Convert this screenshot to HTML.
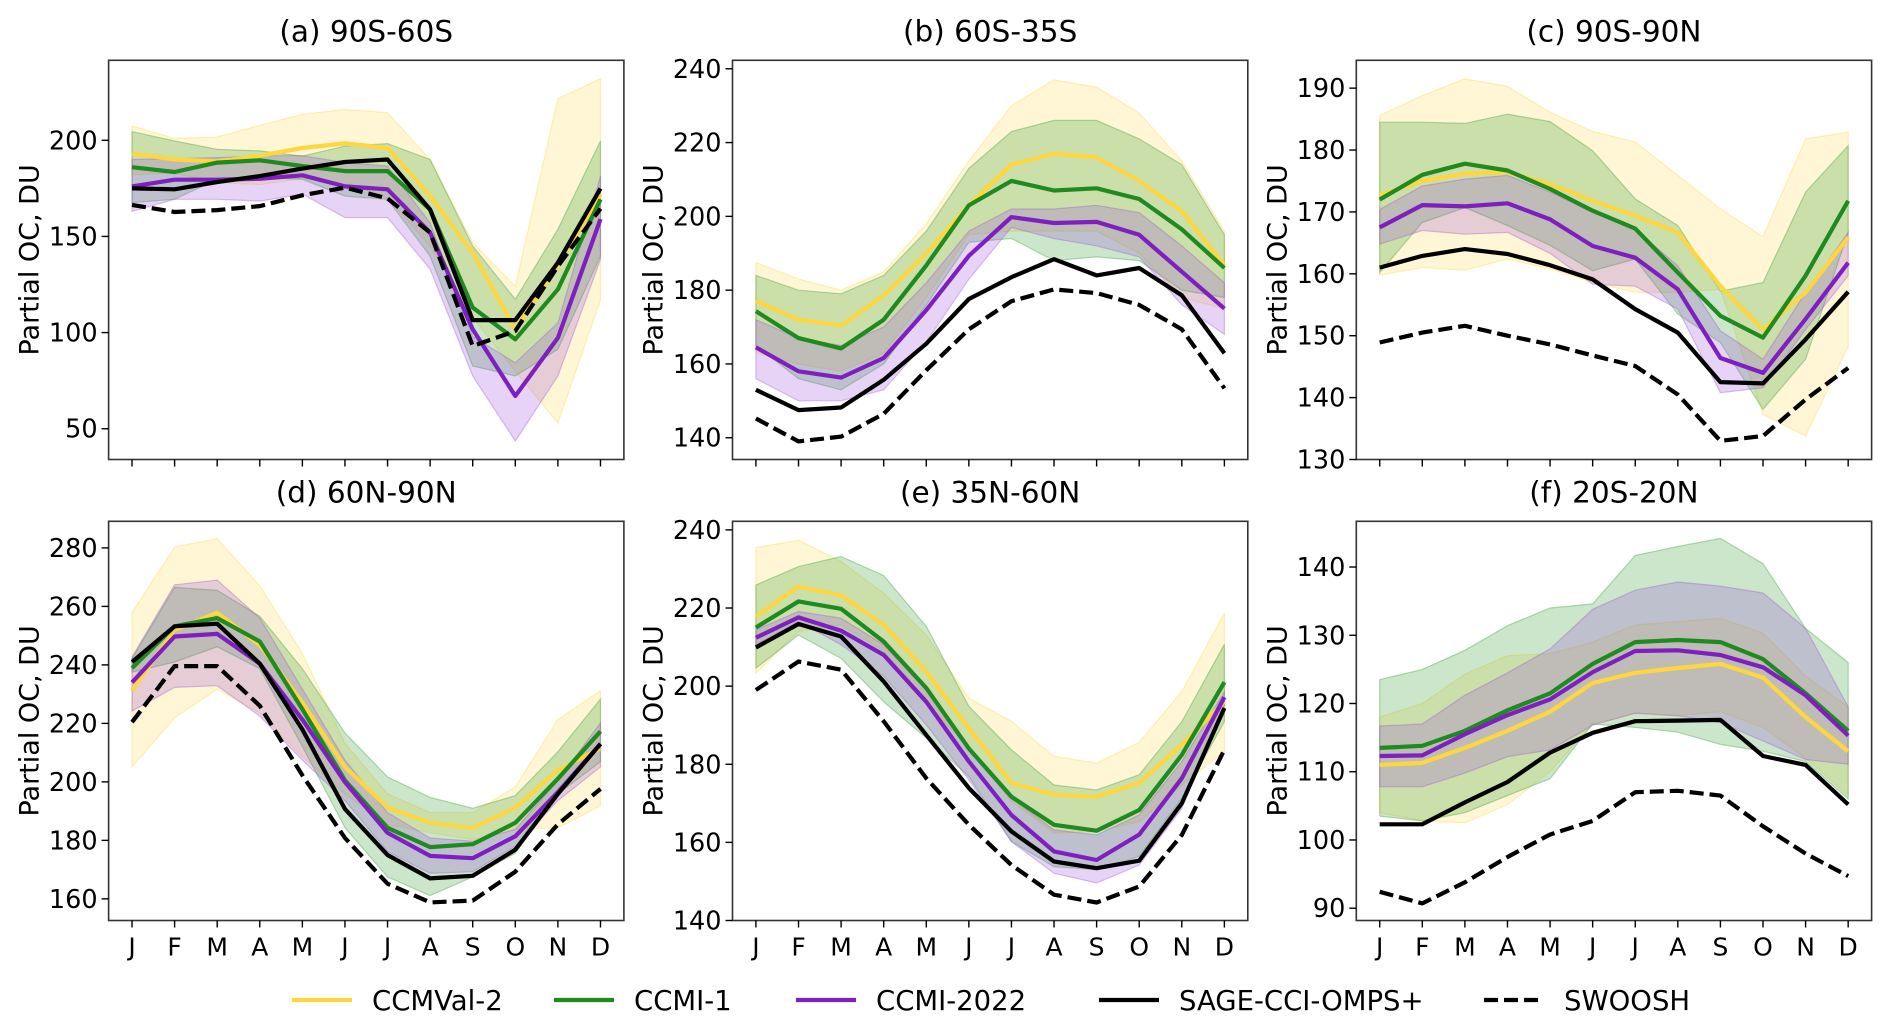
<!DOCTYPE html>
<html><head><meta charset="utf-8">
<style>
html,body{margin:0;padding:0;background:#fff;}
svg{display:block;font-family:"DejaVu Sans","Liberation Sans",sans-serif;}
</style></head>
<body>
<svg id="fig" width="1892" height="1029" viewBox="0 0 1892 1029" xmlns="http://www.w3.org/2000/svg"></svg>
<script>
const months = ["J","F","M","A","M","J","J","A","S","O","N","D"];
const seriesNames = ["CCMVal-2","CCMI-1","CCMI-2022","SAGE-CCI-OMPS+","SWOOSH"];
const panelTitles = ["(a) 90S-60S","(b) 60S-35S","(c) 90S-90N","(d) 60N-90N","(e) 35N-60N","(f) 20S-20N"];
const yTicksA = [50,100,150,200];
const yTicksB = [140,160,180,200,220,240];
const yTicksC = [130,140,150,160,170,180,190];
const yTicksD = [160,180,200,220,240,260,280];
const yTicksE = [140,160,180,200,220,240];
const yTicksF = [90,100,110,120,130,140];
const yRanges = [[34,241.6],[134.1,242.3],[130,194.5],[152.6,289.1],[140,242.2],[88.2,146.7]];

// Panel (a)
const aYel = [193.2,190,189,192,196,198.4,196,171,141.6,101.7,134.6,172];
const aGrn = [186,183.5,188.4,189.6,186.6,184,184,164,113,96.5,122.5,169.3];
const aPur = [176,179.5,179.5,180,181.8,176,174.5,152,101.7,67,97.3,159];
const aBlk = [175,174.5,178.3,181.4,185.3,188.7,190,164,106.5,106.5,136.4,175];
const aSw  = [166.4,162.7,163.7,165.8,171.4,175.4,169.8,152,93,100.8,134.6,164.5];
const aYelHi = [207.5,201,201.7,207.8,213.5,216,214.4,190,146.8,124,221.7,232];
const aYelLo = [182,183,178,177,180,178,170,145,108,80,53,117];
const aGrnHi = [204.5,199.7,195.3,194.5,191.8,197,198.3,190,145,117.3,153.7,199.7];
const aGrnLo = [167.6,169.3,179.7,180.6,179.7,171,169.3,139.8,82.6,77.4,91.3,139.8];
const aPurHi = [190,190.5,191,192,192,188.4,186.6,157,98,84.3,105,181.4];
const aPurLo = [163,169.3,169.3,168.4,172,159.8,159.8,133,77.4,43.6,77.4,138];
// Panel (b)
const bYel = [177,172,170.4,178.6,190,203,214,217,216,209.6,201.4,186.7];
const bGrn = [174.3,167,164.2,172,186.7,203,209.6,207,207.6,204.7,196.5,186];
const bPur = [164.5,158,156.3,161.6,174.6,189.3,199.8,198.2,198.5,195,185,175];
const bBlk = [153,147.5,148.2,155.7,165.5,177.6,183.5,188.4,184,186,178.6,162.9];
const bSw  = [145.2,139,140.3,146.5,158.3,169.4,177,180.2,179.2,176,169.4,153.4];
const bYelHi = [187.5,183,180,185,198,215,230,237,235,228,215,196];
const bYelLo = [163,160,158,163,178,195,196,196,196,190,178,175];
const bGrnHi = [184,180,179,184,196,213,223,226,226,221,214,195];
const bGrnLo = [165,156,153,160,176,193,194,188,189,188,180,178];
const bPurHi = [172,167,165,170,182,196,202,202,203,201,192,182];
const bPurLo = [156,150,150,153,166,183,197,194,192,189,176,168];
// Panel (c)
const cYel = [172.7,175,176.2,176.4,174.5,171.8,169.4,166.7,158,151,157,165.9];
const cGrn = [172,176,177.8,176.7,173.7,170.2,167.3,160.2,153.2,149.7,159.7,171.8];
const cPur = [167.5,171.1,170.9,171.4,168.8,164.5,162.6,157.5,146.4,144,152.7,161.8];
const cBlk = [161,162.9,164,163.2,161.4,159.1,154.3,150.5,142.5,142.3,149.4,157.1];
const cSw  = [148.9,150.5,151.6,150,148.6,146.8,145.1,140.5,133,133.8,139.7,144.8];
const cYelHi = [185.6,188.8,191.5,190.3,186.1,183,181.3,175.9,170.5,166,181.8,182.9];
const cYelLo = [159.8,161,160.6,162.4,160.8,158.6,157,157,157.5,137.3,133.8,148.3];
const cGrnHi = [184.5,184.5,184.3,185.8,184.6,179.9,172.1,167.8,157.2,158.6,173.2,180.7];
const cGrnLo = [160.2,168.3,170.7,167.8,164.6,160.5,162.4,153.5,148.9,138.1,146.2,166.7];
const cPurHi = [170.4,174.2,175.3,175.9,173.2,169.9,167.2,161.3,150.8,146.2,157,166.7];
const cPurLo = [164.8,167,166.4,166.7,163.3,158.3,158,154.3,140.8,141.6,151,159.7];
// Panel (d)
const dYel = [231.2,252,257.8,246.8,227.1,205.1,191.2,186,184.3,191.2,204,211.5];
const dGrn = [238.9,253.2,256,248,224.8,200.5,184.3,177.7,178.7,186,201.1,217.3];
const dPur = [234,249.7,250.6,240.4,221.3,199.9,182.6,174.7,173.9,181.4,196.5,213];
const dBlk = [241,253.2,254.1,240.4,217.9,190.7,175,167,167.9,176.8,195.9,213];
const dSw  = [220.4,239.6,239.6,226,202.2,180.8,165.2,158.8,159.4,169.3,185.5,197.6];
const dYelHi = [257.8,280.3,283.2,267,243.9,213.2,195.9,189.5,189.5,198.2,221.3,231.2];
const dYelLo = [205.1,221.9,231.7,223.6,208.6,195.9,185.5,182.6,180.3,183.7,184.3,191.8];
const dGrnHi = [242.2,266.5,265.5,256.6,238.7,216.7,201.7,194.7,191,195.3,210.3,228.3];
const dGrnLo = [237.5,241,246.2,238.7,212.1,184.3,167.5,161.1,167.5,175.6,195.9,206.9];
const dPurHi = [242.7,267.4,269,256,231.7,207.4,189.5,180.8,179.7,183.7,200.5,220.2];
const dPurLo = [224.2,232.3,232.9,222.5,207.4,193.6,176.2,168.7,169.3,178,193.6,205.1];
// Panel (e)
const eYel = [217.8,225.5,223.2,215.7,203.7,189.2,175.2,172.2,171.7,175.2,185,196];
const eGrn = [215,221.7,219.8,211.4,199.5,184,171.7,164.5,163,168.3,182.4,201];
const ePur = [212.4,217.6,214.2,208,196,180.7,167,157.7,155.5,162,176.4,197.2];
const eBlk = [209.9,215.9,212.7,201.2,187.5,173.9,162.8,155.1,153.4,155.3,170,194.4];
const eSw  = [199,206.3,204.2,191,176.4,164.5,154.2,146.6,144.6,148.7,161.9,183.7];
const eYelHi = [235.5,237.3,231.9,223.8,213.1,196.9,191,182,180.3,185.6,198.6,218.7];
const eYelLo = [203.3,214,215.7,208.9,196,184,170.5,162.4,162.8,165.3,174.7,183.3];
const eGrnHi = [225.9,230.6,233.2,228.3,215.3,194.8,183.7,174.7,173.4,177.3,190.9,210.7];
const eGrnLo = [204.6,213.1,207.1,196,186.7,176.9,160.2,153.8,153,156.4,171.3,190.9];
const ePurHi = [214.4,219.1,217.4,210.6,199,184,171.3,163.2,161.9,167,180.7,198.6];
const ePurLo = [210.6,216.5,210.6,202.5,190.1,176,160.2,152.1,149.6,154.2,168.7,195.2];
// Panel (f)
const fYel = [111,111.3,113.5,116,118.8,123,124.5,125.2,125.8,123.8,118,113];
const fGrn = [113.5,113.8,116,119,121.5,125.8,129,129.3,129,126.5,121.5,116];
const fPur = [112.3,112.4,115.5,118.3,120.6,124.6,127.7,127.8,127.1,125.3,121.2,115.3];
const fBlk = [102.3,102.3,105.5,108.5,112.8,115.7,117.4,117.5,117.6,112.3,111,105.2];
const fSw  = [92.4,90.7,93.8,97.5,100.8,102.8,107,107.2,106.5,102,98,94.7];
const fYelHi = [118,120,124.3,127,127.3,129,131.5,132,132.5,130.3,124,119.5];
const fYelLo = [104,102.8,102.5,105.2,110,117,118.5,118.2,118.8,116.5,112,106.5];
const fGrnHi = [123.5,125,127.8,131.4,134,134.6,141.7,143,144.2,140.5,131,126];
const fGrnLo = [103.5,102.8,104,106.5,109,117,116.5,115.8,114,113,111.5,106];
const fPurHi = [116.7,117,121.2,124.5,128,133.8,136.6,137.8,137.2,136.2,131,119.5];
const fPurLo = [107.8,107.8,109.8,112.2,113.2,116.8,118.6,118.2,117.2,114.5,111.8,111.1];

const panels = [
  {lines:[aYel,aGrn,aPur,aBlk,aSw], hi:[aYelHi,aGrnHi,aPurHi], lo:[aYelLo,aGrnLo,aPurLo], ticks:yTicksA},
  {lines:[bYel,bGrn,bPur,bBlk,bSw], hi:[bYelHi,bGrnHi,bPurHi], lo:[bYelLo,bGrnLo,bPurLo], ticks:yTicksB},
  {lines:[cYel,cGrn,cPur,cBlk,cSw], hi:[cYelHi,cGrnHi,cPurHi], lo:[cYelLo,cGrnLo,cPurLo], ticks:yTicksC},
  {lines:[dYel,dGrn,dPur,dBlk,dSw], hi:[dYelHi,dGrnHi,dPurHi], lo:[dYelLo,dGrnLo,dPurLo], ticks:yTicksD},
  {lines:[eYel,eGrn,ePur,eBlk,eSw], hi:[eYelHi,eGrnHi,ePurHi], lo:[eYelLo,eGrnLo,ePurLo], ticks:yTicksE},
  {lines:[fYel,fGrn,fPur,fBlk,fSw], hi:[fYelHi,fGrnHi,fPurHi], lo:[fYelLo,fGrnLo,fPurLo], ticks:yTicksF}
];

const NS = "http://www.w3.org/2000/svg";
const svg = document.getElementById("fig");
const lineColors = ["#fdd640","#1f8a1f","#7e1fbf","#000000","#000000"];
const bandColors = ["#fdd640","#2e9a2e","#9c4fd6"];
const bandOpac = [0.22,0.25,0.25];
const colX = [108.6,732.5,1356.3];
const rowY = [60.3,521.3];
const PW = 515.3, PH = 399.2;

function mk(tag, attrs, parent){
  const e = document.createElementNS(NS, tag);
  for (const k in attrs) e.setAttribute(k, attrs[k]);
  (parent||svg).appendChild(e);
  return e;
}

panels.forEach((p, pi) => {
  const x0 = colX[pi%3], y0 = rowY[Math.floor(pi/3)];
  const [ymin, ymax] = yRanges[pi];
  const xs = i => x0 + PW*(0.55 + i)/12.1;
  const ys = v => y0 + PH*(1 - (v - ymin)/(ymax - ymin));
  const g = mk("g", {});
  
  
  const cp = mk("clipPath", {id:"clip"+pi}, g);
  mk("rect", {x:x0, y:y0, width:PW, height:PH}, cp);
  const plot = mk("g", {"clip-path":"url(#clip"+pi+")"}, g);
  p.hi.forEach((hi, bi) => {
    const lo = p.lo[bi];
    let d = "";
    hi.forEach((v,i)=>{ d += (i?"L":"M") + xs(i).toFixed(1) + "," + ys(v).toFixed(1); });
    for (let i=lo.length-1;i>=0;i--) d += "L" + xs(i).toFixed(1) + "," + ys(lo[i]).toFixed(1);
    d += "Z";
    const b = mk("path", {d:d, fill:bandColors[bi], "fill-opacity":bandOpac[bi], stroke:bandColors[bi], "stroke-opacity":0.35, "stroke-width":1.2}, plot);
    
    
  });
  p.lines.forEach((arr, li) => {
    const pts = arr.map((v,i)=>xs(i).toFixed(1)+","+ys(v).toFixed(1)).join(" ");
    const attrs = {points:pts, fill:"none", stroke:lineColors[li], "stroke-width":4.2, "stroke-linejoin":"round"};
    if (li===4) attrs["stroke-dasharray"] = "14,6";
    const l = mk("polyline", attrs, plot);
    
    
  });
  const fr = mk("rect", {x:x0, y:y0, width:PW, height:PH, fill:"none", stroke:"#333", "stroke-width":1.6}, g);
  
  
  months.forEach((m,i)=>{
    mk("line", {x1:xs(i), x2:xs(i), y1:y0+PH, y2:y0+PH+7, stroke:"#000", "stroke-width":1.4}, g);
    if (pi>=3) {
      const t = mk("text", {x:xs(i), y:y0+PH+35, "font-size":25, "text-anchor":"middle", fill:"#000"}, g);
      t.textContent = m;
      
      
    }
  });
  p.ticks.forEach(v=>{
    const y = ys(v);
    mk("line", {x1:x0-7, x2:x0, y1:y, y2:y, stroke:"#000", "stroke-width":1.4}, g);
    const t = mk("text", {x:x0-11, y:y+9, "font-size":25.5, "text-anchor":"end", fill:"#000"}, g);
    t.textContent = v;
    
    
  });
  const tt = mk("text", {x:x0+PW/2, y:y0-19, "font-size":29.5, "text-anchor":"middle", fill:"#000"}, g);
  tt.textContent = panelTitles[pi];
  
  
  const lx = x0 - 70, ly = y0 + PH/2;
  const yl = mk("text", {x:lx, y:ly, "font-size":27, "text-anchor":"middle", fill:"#000", transform:"rotate(-90 "+lx+" "+ly+")"}, g);
  yl.textContent = "Partial OC, DU";
  
  
});

const legLineX = [292,554,796,1099,1484];
const leg = mk("g", {});


seriesNames.forEach((n,i)=>{
  const y = 1000;
  const la = {x1:legLineX[i], x2:legLineX[i]+60, y1:y, y2:y, stroke:lineColors[i], "stroke-width":4.2};
  if (i===4) la["stroke-dasharray"] = "14,6";
  const e = mk("g", {}, leg);
  
  
  mk("line", la, e);
  const t = mk("text", {x:legLineX[i]+80, y:y+10, "font-size":27.5, fill:"#000"}, e);
  t.textContent = n;
});
</script>
</body></html>
